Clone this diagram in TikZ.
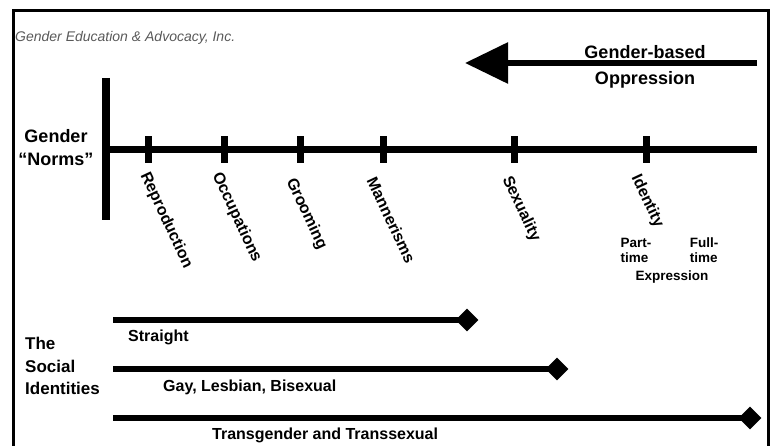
\documentclass[tikz,border=0pt]{standalone}
\usepackage{fontspec}
\setmainfont{Liberation Sans}
\usetikzlibrary{arrows.meta, positioning, shapes.geometric}

\begin{document}
\begin{tikzpicture}[
  x=1pt, y=-1pt,
  axisline/.style={line width=7pt, black},
  tickmark/.style={line width=7pt, black},
  bar/.style={line width=6.5pt, black},
  gem/.style={diamond, fill=black, inner sep=0pt, minimum width=23pt, minimum height=23pt},
  norm/.style={font=\bfseries\fontsize{16}{18}\selectfont, rotate=-65, anchor=north west, inner sep=0pt},
  head/.style={font=\bfseries\fontsize{18}{23}\selectfont, align=center, inner sep=0pt},
  tag/.style={font=\bfseries\fontsize{16}{19}\selectfont, anchor=west, inner sep=0pt},
  small/.style={font=\bfseries\fontsize{13.5}{15}\selectfont, align=left, inner sep=0pt},
]
\useasboundingbox (0,0) rectangle (773,446);
\draw[line width=3pt] (13,446) -- (13,11) -- (768,11) -- (768,446);

\node[font=\itshape\fontsize{14}{16}\selectfont, text=black!65, anchor=west, inner sep=0pt] (gea) at (15,38) {Gender Education \& Advocacy, Inc.};

\coordinate (oppR) at (757,63);
\coordinate (oppL) at (465,63);
\draw[line width=6pt, -{Triangle[length=43pt, width=40pt]}] (oppR) -- (oppL);
\node[head] (gb) at (645,52) {Gender-based};
\node[head] (opp) at (645,80) {Oppression};

\coordinate (vtop) at (106,78);
\coordinate (vbot) at (106,220);
\coordinate (axL) at (106,150);
\coordinate (axR) at (757,150);
\draw[line width=7.5pt] (vtop) -- (vbot);
\draw[axisline] (axL) -- (axR);
\node[head] (norms) at (56,147.5) {Gender\\``Norms''};

\foreach \n/\x in {repro/148, occup/224, groom/300, manner/383, sexual/514, ident/646}
  \coordinate (\n) at (\x,150);
\foreach \n in {repro, occup, groom, manner, sexual, ident}
  \draw[tickmark] ([yshift=13.5pt]\n) -- ([yshift=-13.5pt]\n);
\foreach \n/\t/\dx/\dy in {repro/Reproduction/3/20, occup/Occupations/-1/20, groom/Grooming/-3/26,
    manner/Mannerisms/-6/25, sexual/Sexuality/-1/24, ident/Identity/-4/22}
  \node[norm] (\n-lbl) at ([shift={(\dx,\dy)}]\n) {\t};

\node[small] (part) at (636,250) {Part-\\time};
\node[small] (full) at (704,250) {Full-\\time};
\node[small] (expr) at (672,277) {Expression};

\node[font=\bfseries\fontsize{17}{22.5}\selectfont, align=left, anchor=west, inner sep=0pt] (social) at (25,366) {The\\Social\\Identities};

\coordinate (sS) at (113,320);
\coordinate (sG) at (113,369);
\coordinate (sT) at (113,418);
\node[gem] (eS) at (467,320) {};
\node[gem] (eG) at (557,369) {};
\node[gem] (eT) at (750,418) {};
\draw[bar] (sS) -- (eS.center);
\draw[bar] (sG) -- (eG.center);
\draw[bar] (sT) -- (eT.center);
\node[tag] (straight) at (128,337) {Straight};
\node[tag] (glb) at (163,387) {Gay, Lesbian, Bisexual};
\node[tag] (trans) at (212,435) {Transgender and Transsexual};
\end{tikzpicture}
\end{document}
